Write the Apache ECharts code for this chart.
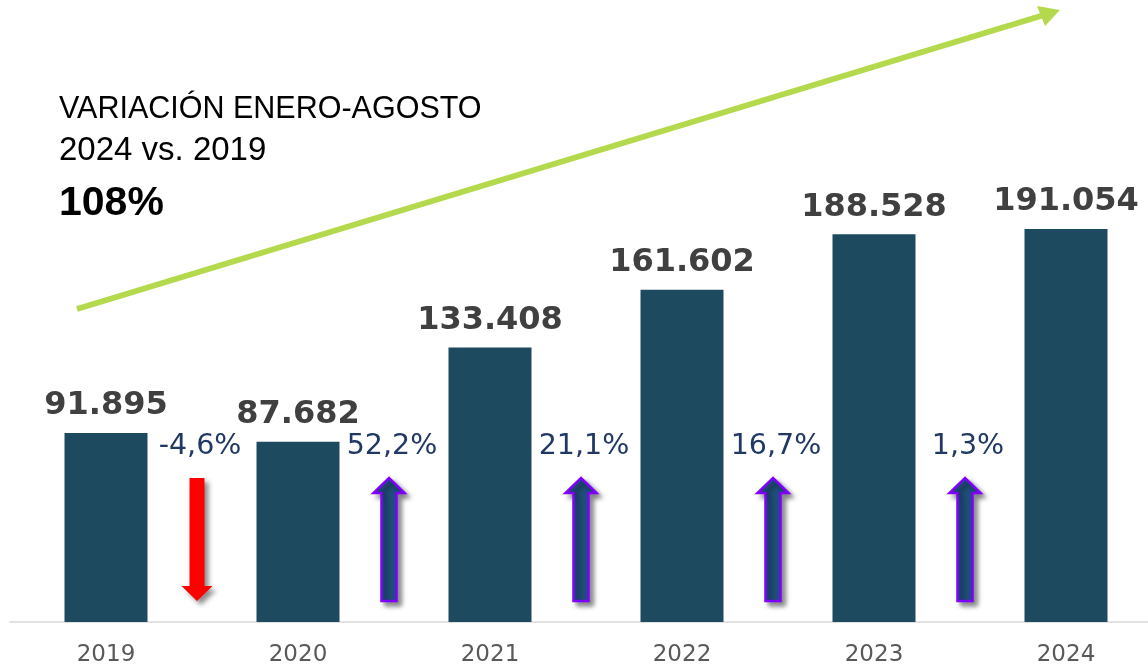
<!DOCTYPE html>
<html>
<head>
<meta charset="utf-8">
<script src="https://cdn.jsdelivr.net/npm/echarts@6/dist/echarts.min.js"></script>
<style>
  html, body { margin: 0; padding: 0; background: #fff; }
  #chart-container { width: 1148px; height: 669px; }
</style>
</head>
<body>
<div id="chart-container"></div>
<script>
// años y valores (enero-agosto)
var years = ['2019', '2020', '2021', '2022', '2023', '2024'];
var values = [91895, 87682, 133408, 161602, 188528, 191054];

// variación interanual entre barras
var changes = [-4.6, 52.2, 21.1, 16.7, 1.3];
var changeLabels = ['-4,6%', '52,2%', '21,1%', '16,7%', '1,3%'];

var titleLines = ['VARIACIÓN ENERO-AGOSTO', '2024 vs. 2019', '108%'];

function formatMiles(v) {
  return String(v).replace(/\B(?=(\d{3})+(?!\d))/g, '.');
}

var chart = echarts.init(document.getElementById('chart-container'));

// flechas entre barras
function renderArrow(params, api) {
  var i = api.value(0);
  var a = api.coord([i, 0]);
  var b = api.coord([i + 1, 0]);
  var x = (a[0] + b[0]) / 2 - 5;
  var base = a[1];
  var up = api.value(1) >= 0;
  var top = base - 144, bottom = base - 21;
  var sw = 7.5, hw = 15.5, hh = 15;
  var pts;
  if (up) {
    pts = [[x, top], [x + hw, top + hh], [x + sw, top + hh], [x + sw, bottom],
           [x - sw, bottom], [x - sw, top + hh], [x - hw, top + hh]];
  } else {
    pts = [[x - sw, top], [x + sw, top], [x + sw, bottom - hh], [x + hw, bottom - hh],
           [x, bottom], [x - hw, bottom - hh], [x - sw, bottom - hh]];
  }
  return {
    type: 'group',
    children: [
      {
        type: 'polygon',
        shape: { points: pts },
        style: up ? {
          fill: '#1f4e79', stroke: '#7f00ff', lineWidth: 2.5,
          shadowColor: 'rgba(0,0,0,0.45)', shadowBlur: 5, shadowOffsetX: 4, shadowOffsetY: 4
        } : {
          fill: '#ff0000',
          shadowColor: 'rgba(0,0,0,0.45)', shadowBlur: 5, shadowOffsetX: 4, shadowOffsetY: 4
        }
      },
      {
        type: 'text',
        style: {
          text: changeLabels[params.dataIndex],
          x: x + 3, y: base - 175,
          align: 'center', verticalAlign: 'middle',
          fontSize: 28.5, fontFamily: 'DejaVu Sans',
          fill: '#1f3864'
        }
      }
    ]
  };
}

var options = {
  animation: false,
  grid: { left: 10, width: 1152, top: 5, bottom: 47, outerBoundsMode: 'none' },
  xAxis: {
    type: 'category',
    data: years,
    axisLine: { lineStyle: { color: '#d9d9d9', width: 1.5 } },
    axisTick: { show: false },
    axisLabel: { color: '#595959', fontSize: 23, fontFamily: 'DejaVu Sans', margin: 22 }
  },
  yAxis: {
    type: 'value', min: 0, max: 300000, show: false,
    splitLine: { show: false }
  },
  series: [
    {
      type: 'bar',
      data: values,
      barWidth: 83,
      itemStyle: { color: '#1d4a5e' },
      label: {
        show: true, position: 'top', distance: 11,
        fontSize: 32, fontWeight: 'bold', fontFamily: 'DejaVu Sans', color: '#404040',
        formatter: function (p) { return formatMiles(p.value); }
      }
    },
    {
      type: 'custom',
      renderItem: renderArrow,
      data: changes.map(function (c, i) { return [i, c]; }),
      encode: { x: 0, y: 1 },
      silent: true,
      z: 5
    }
  ],
  graphic: [
    {
      type: 'polyline',
      shape: { points: [[77, 309], [1044, 15]] },
      style: { stroke: '#b5d94c', lineWidth: 6, fill: null }
    },
    {
      type: 'polygon',
      shape: { points: [[1060, 10], [1037, 6], [1045, 26]] },
      style: { fill: '#b5d94c' }
    },
    {
      type: 'text', left: 59, top: 94,
      style: { text: titleLines[0], fontSize: 30.5, fontFamily: 'Liberation Sans', fill: '#000' }
    },
    {
      type: 'text', left: 59, top: 134,
      style: { text: titleLines[1], fontSize: 33, fontFamily: 'Liberation Sans', fill: '#000' }
    },
    {
      type: 'text', left: 59, top: 183,
      style: { text: titleLines[2], fontSize: 41, fontWeight: 'bold', fontFamily: 'Liberation Sans', fill: '#000' }
    }
  ]
};

chart.setOption(options);
</script>
</body>
</html>
